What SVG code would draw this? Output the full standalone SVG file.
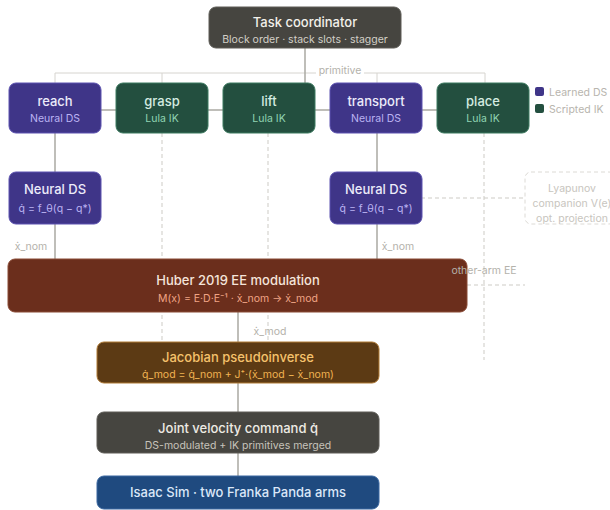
<svg xmlns="http://www.w3.org/2000/svg" width="610" height="510" viewBox="0 0 610 510">
<style>
text{font-family:Inter,"Noto Sans","Liberation Sans",sans-serif;text-anchor:middle}
.t{font-size:13px;font-weight:500}
.s{font-size:10.5px}
.lbl{font-size:10.5px;fill:#b4b2ab}
.solid{stroke:#aaa8a2;stroke-width:1.5;fill:none}
.thin{stroke:#d6d4cf;stroke-width:1;fill:none}
.dash{stroke:#cdcbc5;stroke-width:1;stroke-dasharray:4 3;fill:none}
.ds rect{fill:#3f3588;stroke:#5c52b0;stroke-width:1}
.ds .t{fill:#ecebfa}.ds .s{fill:#bbb3f2}
.ik rect{fill:#234f3f;stroke:#3d7a60;stroke-width:1}
.ik .t{fill:#d4ece1}.ik .s{fill:#90d4b3}
</style>
<g id="connectors">
<line class="thin" x1="55" y1="73" x2="485" y2="73"/>
<line class="thin" x1="55" y1="73" x2="55" y2="84"/>
<line class="thin" x1="162" y1="73" x2="162" y2="84"/>
<line class="thin" x1="377" y1="73" x2="377" y2="84"/>
<line class="thin" x1="485" y1="73" x2="485" y2="84"/>
<line class="solid" x1="305" y1="48" x2="305" y2="84"/>
<rect x="316" y="64" width="48" height="13" fill="#ffffff"/>
<text class="lbl" x="340" y="74">primitive</text>
<line class="solid" x1="100" y1="110" x2="437" y2="110"/>
<line class="dash" x1="162" y1="133" x2="162" y2="342"/>
<line class="dash" x1="268" y1="133" x2="268" y2="342"/>
<line class="dash" x1="484" y1="133" x2="484" y2="360"/>
<line class="solid" x1="55" y1="133" x2="55" y2="259"/>
<line class="solid" x1="377" y1="133" x2="377" y2="259"/>
<line class="dash" x1="421" y1="198" x2="525" y2="198"/>
<line class="dash" x1="467" y1="285" x2="525" y2="285"/>
<text class="lbl" x="31" y="250">ẋ_nom</text>
<text class="lbl" x="398" y="250">ẋ_nom</text>
<line class="solid" x1="238" y1="312" x2="238" y2="476"/>
<text class="lbl" x="270" y="335">ẋ_mod</text>
</g>
<g id="coordinator">
<rect x="209" y="7" width="192" height="41" rx="7" fill="#464540" stroke="#5e5d57"/>
<text class="t" x="305" y="27" fill="#f2f0ea">Task coordinator</text>
<text class="s" x="305" y="43" fill="#d2cfc7">Block order · stack slots · stagger</text>
</g>
<g id="reach" class="ds"><rect x="9" y="83" width="92" height="50" rx="7"/><text class="t" x="55" y="106">reach</text><text class="s" x="55" y="122">Neural DS</text></g>
<g id="grasp" class="ik"><rect x="116" y="83" width="92" height="50" rx="7"/><text class="t" x="162" y="106">grasp</text><text class="s" x="162" y="122">Lula IK</text></g>
<g id="lift" class="ik"><rect x="223" y="83" width="92" height="50" rx="7"/><text class="t" x="269" y="106">lift</text><text class="s" x="269" y="122">Lula IK</text></g>
<g id="transport" class="ds"><rect x="330" y="83" width="92" height="50" rx="7"/><text class="t" x="376" y="106">transport</text><text class="s" x="376" y="122">Neural DS</text></g>
<g id="place" class="ik"><rect x="437" y="83" width="92" height="50" rx="7"/><text class="t" x="483" y="106">place</text><text class="s" x="483" y="122">Lula IK</text></g>
<g id="legend">
<rect x="535" y="87" width="9" height="9" rx="2" fill="#3f3588"/>
<text x="549" y="96" style="font-size:10.5px;text-anchor:start" fill="#b8b5ae">Learned DS</text>
<rect x="535" y="104" width="9" height="9" rx="2" fill="#234f3f"/>
<text x="549" y="113" style="font-size:10.5px;text-anchor:start" fill="#b8b5ae">Scripted IK</text>
</g>
<g id="neural-ds-left" class="ds"><rect x="9" y="172" width="92" height="52" rx="7"/><text class="t" x="55" y="194">Neural DS</text><text class="s" x="55" y="212">q̇ = f_θ(q − q*)</text></g>
<g id="neural-ds-right" class="ds"><rect x="330" y="172" width="92" height="52" rx="7"/><text class="t" x="376" y="194">Neural DS</text><text class="s" x="376" y="212">q̇ = f_θ(q − q*)</text></g>
<g id="lyapunov">
<rect x="525" y="172" width="90" height="52" rx="6" fill="none" stroke="#dcdad5" stroke-dasharray="4 3"/>
<text x="572" y="192" style="font-size:10.5px" fill="#c8c5be">Lyapunov</text>
<text x="572" y="207" style="font-size:10.5px" fill="#c8c5be">companion V(e)</text>
<text x="572" y="222" style="font-size:10.5px" fill="#c8c5be">opt. projection</text>
</g>
<g id="huber">
<rect x="8" y="259" width="459" height="53" rx="7" fill="#6b2e1c" stroke="#8a4a35"/>
<text class="t" x="238" y="285" fill="#f5e4da">Huber 2019 EE modulation</text>
<text class="s" x="238" y="302" fill="#f0a485">M(x) = E·D·E⁻¹ · ẋ_nom → ẋ_mod</text>
</g>
<g id="other-arm-label">
<text class="lbl" x="484" y="274">other-arm EE</text>
</g>
<g id="jacobian">
<rect x="97" y="342" width="282" height="41" rx="7" fill="#5c3a14" stroke="#b07a35"/>
<text class="t" x="238" y="362" fill="#f5c26c">Jacobian pseudoinverse</text>
<text class="s" x="238" y="378" fill="#f0b352">q̇_mod = q̇_nom + J⁺·(ẋ_mod − ẋ_nom)</text>
</g>
<g id="joint-velocity">
<rect x="97" y="412" width="282" height="41" rx="7" fill="#464540" stroke="#5e5d57"/>
<text class="t" x="238" y="433" fill="#eeebe4">Joint velocity command q̇</text>
<text class="s" x="238" y="449" fill="#c6c3bb">DS-modulated + IK primitives merged</text>
</g>
<g id="isaac-sim">
<rect x="97" y="476" width="282" height="33" rx="7" fill="#1f4a7f" stroke="#3a67a0"/>
<text class="t" x="238" y="497" fill="#dbe7f8">Isaac Sim · two Franka Panda arms</text>
</g>
</svg>
